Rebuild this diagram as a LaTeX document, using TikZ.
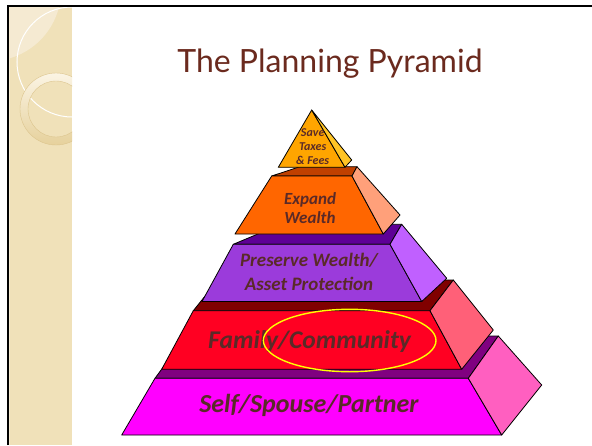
\documentclass[tikz,border=0pt]{standalone}
\usepackage{fontspec}
\setmainfont{Carlito}
\newfontfamily\titlefont{Lato}
\usepackage{xcolor}
\usepackage{tikz}
\definecolor{PPbrown}{HTML}{6B2A1E}
\definecolor{PPtext}{HTML}{5A2A28}
\definecolor{PPbeige}{HTML}{F0E1B9}
\definecolor{PPbeigeLight}{HTML}{F5EAD2}
\definecolor{PPringLight}{HTML}{FBF4E4}
\definecolor{PPringDark}{HTML}{E6D19C}
\definecolor{PPringEdge}{HTML}{DCC58E}
\definecolor{PPhighlight}{HTML}{FFFF00}
% tier colours: front, top, side
\definecolor{PPgold}{HTML}{FFA500}
\definecolor{PPgoldSide}{HTML}{FFC425}
\definecolor{PPorange}{HTML}{FF6600}
\definecolor{PPorangeTop}{HTML}{C04000}
\definecolor{PPorangeSide}{HTML}{FFA07A}
\definecolor{PPviolet}{HTML}{9B3BDB}
\definecolor{PPvioletTop}{HTML}{5E0096}
\definecolor{PPvioletSide}{HTML}{C060FF}
\definecolor{PPred}{HTML}{FF0022}
\definecolor{PPredTop}{HTML}{800000}
\definecolor{PPredSide}{HTML}{FF6078}
\definecolor{PPmagenta}{HTML}{FF00FF}
\definecolor{PPmagentaTop}{HTML}{800080}
\definecolor{PPmagentaSide}{HTML}{FF5FC0}
\tikzset{
  facet/.style={draw=black, line width=0.8pt, line join=round},
  tierlabel/.style={text=PPtext, align=center, inner sep=0pt},
  slidetitle/.style={font=\titlefont\fontsize{32}{38}\selectfont, text=PPbrown, inner sep=0pt}
}

\begin{document}
\begin{tikzpicture}[x=1pt, y=-1pt]
\useasboundingbox (0,0) rectangle (592,445);
\fill[white] (0,0) rectangle (592,445);

% beige side strip with its circles
\begin{scope}
\clip (9.3,7.2) rectangle (72,445);
\fill[PPbeige] (9.3,7.2) rectangle (72,445);
\fill[PPbeigeLight] (-10,-10) circle[radius=71pt];
\draw[white, line width=1pt] (72,62) circle[radius=55pt];
\shade[top color=PPringLight, bottom color=PPringDark, even odd rule]
  (56,109) circle[radius=36pt] (56,109) circle[radius=28pt];
\draw[PPringEdge, line width=0.4pt] (56,109) circle[radius=36pt] (56,109) circle[radius=28pt];
\end{scope}
\draw[line width=2.3pt] (8.3,445) -- (8.3,6) -- (592,6);

\node[slidetitle, anchor=base] (title) at (330,72) {The Planning Pyramid};

% bottom tier
\filldraw[facet, fill=PPmagentaTop] (155,378.3) -- (468.3,378.3) -- (498.3,336) -- (186,336) -- cycle;
\filldraw[facet, fill=PPmagenta] (155,378.3) -- (468.3,378.3) -- (501.7,435) -- (121.7,435) -- cycle;
\filldraw[facet, fill=PPmagentaSide] (468.3,378.3) -- (498.3,336) -- (541.7,385) -- (501.7,435) -- cycle;

% second tier
\filldraw[facet, fill=PPredTop] (193.3,310.7) -- (430,310.7) -- (453.3,280) -- (218,280) -- cycle;
\filldraw[facet, fill=PPred] (193.3,310.7) -- (430,310.7) -- (461.7,369.3) -- (161.7,369.3) -- cycle;
\filldraw[facet, fill=PPredSide] (430,310.7) -- (453.3,280) -- (493.3,330) -- (461.7,369.3) -- cycle;

% middle tier
\filldraw[facet, fill=PPvioletTop] (233.3,244.3) -- (390,244.3) -- (401.7,224.3) -- (281,224.3) -- cycle;
\filldraw[facet, fill=PPviolet] (233.3,244.3) -- (390,244.3) -- (421.7,301.5) -- (202,301.5) -- cycle;
\filldraw[facet, fill=PPvioletSide] (390,244.3) -- (401.7,224.3) -- (446.7,278.3) -- (421.7,301.5) -- cycle;

% fourth tier
\filldraw[facet, fill=PPorangeTop] (271.7,176) -- (352,176) -- (357,166.7) -- (299.8,166.7) -- cycle;
\filldraw[facet, fill=PPorange] (271.7,176) -- (352,176) -- (383.3,234) -- (235,234) -- cycle;
\filldraw[facet, fill=PPorangeSide] (352,176) -- (357,166.7) -- (400,215) -- (383.3,234) -- cycle;

% tip
\filldraw[facet, fill=PPgold] (311.7,110) -- (345,167.3) -- (278.3,167.3) -- cycle;
\filldraw[facet, fill=PPgoldSide] (311.7,110) -- (351.7,160) -- (345,167.3) -- cycle;

\node[tierlabel, font=\bfseries\itshape\fontsize{12}{14}\selectfont] (save) at (312.7,147) {Save\\Taxes\\\& Fees};
\node[tierlabel, font=\bfseries\itshape\fontsize{17}{19.5}\selectfont] (expand) at (310,208) {Expand\\Wealth};
\node[tierlabel, font=\bfseries\itshape\fontsize{19}{23.5}\selectfont] (preserve) at (309,272) {Preserve Wealth/\\Asset Protection};
\node[tierlabel, font=\bfseries\itshape\fontsize{25.5}{30}\selectfont, anchor=base] (family) at (309.5,348.3) {Family/Community};
\node[tierlabel, font=\bfseries\itshape\fontsize{26}{31}\selectfont, anchor=base] (self) at (309,412.7) {Self/Spouse/Partner};

\draw[PPhighlight, line width=1.4pt] (349.7,340.5) ellipse[x radius=86.3pt, y radius=31.2pt];
\end{tikzpicture}
\end{document}
